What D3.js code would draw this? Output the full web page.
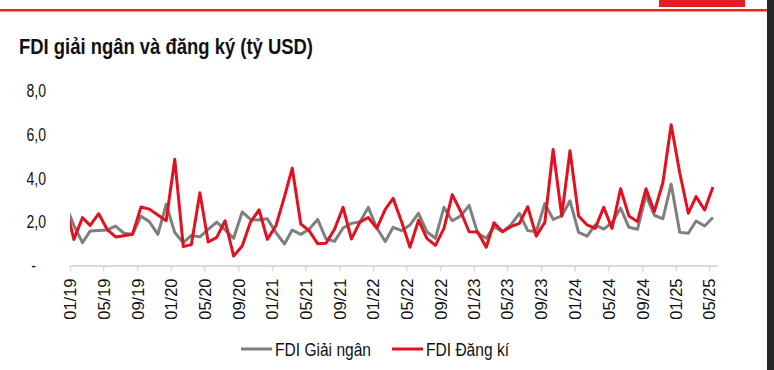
<!DOCTYPE html>
<html>
<head>
<meta charset="utf-8">
<script src="https://cdn.jsdelivr.net/npm/d3@7"></script>
<style>
  body { margin: 0; background: #fff; }
  svg { display: block; }
</style>
</head>
<body>
<div id="chart"></div>
<script>
// monthly values, Dec 2018 .. May 2025 (first point sits just left of the plot and is clipped)
const startMonth = new Date(2018, 11, 1);
const disbursed = [
  2.8,
  1.83, 1.04, 1.57, 1.60, 1.62, 1.80, 1.47, 1.42, 2.25, 2.00, 1.42, 2.79,
  1.50, 1.04, 1.37, 1.31, 1.65, 1.98, 1.62, 1.24, 2.44, 2.10, 2.07, 2.13,
  1.50, 0.98, 1.62, 1.42, 1.65, 2.10, 1.22, 1.10, 1.71, 1.92, 1.98, 2.65,
  1.71, 1.09, 1.74, 1.59, 1.85, 2.38, 1.54, 1.24, 2.65, 2.04, 2.26, 2.74,
  1.47, 1.24, 1.77, 1.54, 1.85, 2.38, 1.59, 1.54, 2.83, 2.10, 2.26, 2.95,
  1.51, 1.34, 1.85, 1.66, 1.95, 2.62, 1.74, 1.65, 3.21, 2.29, 2.13, 3.71,
  1.51, 1.47, 2.03, 1.80, 2.19
];
const registered = [
  2.8,
  1.19, 2.18, 1.83, 2.36, 1.65, 1.30, 1.36, 1.42, 2.67, 2.57, 2.30, 2.04,
  4.84, 0.86, 0.95, 3.32, 1.07, 1.28, 2.04, 0.43, 0.89, 1.98, 2.54, 1.19,
  1.81, 3.14, 4.44, 1.89, 1.59, 0.99, 1.01, 1.65, 2.65, 1.21, 1.98, 2.19,
  1.69, 2.57, 3.06, 1.98, 0.83, 2.07, 1.24, 0.92, 1.69, 3.23, 2.45, 1.54,
  1.53, 0.83, 1.95, 1.54, 1.77, 1.92, 2.68, 1.34, 1.97, 5.29, 2.26, 5.23,
  2.26, 1.85, 1.69, 2.65, 1.69, 3.50, 2.26, 2.00, 3.50, 2.45, 3.77, 6.42,
  4.23, 2.38, 3.14, 2.53, 3.58
];
const yTicks = [0, 2, 4, 6, 8];
const seriesNames = ['FDI Giải ngân', 'FDI Đăng kí'];
const seriesColors = ['#7f7f7f', '#e3101f'];

const width = 774;
const height = 370;
// no narrow face installed, so Liberation Sans gets squeezed horizontally
const font = '"Liberation Sans", Arial, sans-serif';

const svg = d3.select('#chart')
  .append('svg')
  .attr('width', width)
  .attr('height', height);

// page decoration
svg.append('rect').attr('x', 0).attr('y', 9).attr('width', width).attr('height', 2.5).attr('fill', '#f0201a');
svg.append('rect').attr('x', 659).attr('y', 0).attr('width', 86).attr('height', 7).attr('fill', '#e31b23');
svg.append('rect').attr('x', 767).attr('y', 0).attr('width', 7).attr('height', height).attr('fill', '#262626');

// title
svg.append('text')
  .attr('x', 19)
  .attr('y', 54)
  .text('FDI giải ngân và đăng ký (tỷ USD)')
  .attr('font-family', font)
  .attr('font-weight', 'bold')
  .attr('font-size', 22)
  .attr('textLength', 294)
  .attr('lengthAdjust', 'spacingAndGlyphs')
  .attr('fill', '#111');

const dates = disbursed.map((d, i) => d3.timeDay.offset(d3.timeMonth.offset(startMonth, i), 14));

const x = d3.scaleTime()
  .domain([new Date(2019, 0, 1), new Date(2025, 5, 1)])
  .range([70, 717.6]);
const y = d3.scaleLinear().domain([0, 8]).range([265.5, 90]);

// y labels
svg.selectAll('.ylab')
  .data(yTicks)
  .enter()
  .append('text')
  .attr('class', 'ylab')
  .attr('transform', (d) => `translate(${d === 0 ? 36 : 46},${y(d)}) scale(0.74,1)`)
  .attr('dy', '0.36em')
  .attr('text-anchor', 'end')
  .attr('font-family', font)
  .attr('font-size', 19)
  .attr('fill', '#111')
  .text((d) => (d === 0 ? '-' : d3.format('.1f')(d).replace('.', ',')));

// x axis
const xAxis = d3.axisBottom(x)
  .tickValues(d3.timeMonth.every(4).range(new Date(2019, 0, 1), new Date(2025, 5, 2)))
  .tickFormat(d3.timeFormat('%m/%y'))
  .tickSize(6)
  .tickSizeOuter(0);

const gx = svg.append('g')
  .attr('transform', `translate(0,${y(0)})`)
  .call(xAxis);
gx.select('.domain').attr('stroke', '#d9d9d9').attr('stroke-width', 2);
gx.selectAll('.tick line').attr('stroke', '#d9d9d9').attr('stroke-width', 1.5);
gx.selectAll('.tick text')
  .attr('transform', 'rotate(-90)')
  .attr('text-anchor', 'end')
  .attr('x', -13)
  .attr('y', 0)
  .attr('dy', '0.36em')
  .attr('font-family', font)
  .attr('font-size', 16.5)
  .attr('fill', '#111');

// lines
svg.append('clipPath').attr('id', 'plot')
  .append('rect').attr('x', 70).attr('y', 0).attr('width', 660).attr('height', 300);

const line = d3.line()
  .x((d, i) => x(dates[i]))
  .y((d) => y(d));

[disbursed, registered].forEach((s, k) => {
  svg.append('path')
    .datum(s)
    .attr('clip-path', 'url(#plot)')
    .attr('d', line)
    .attr('fill', 'none')
    .attr('stroke', seriesColors[k])
    .attr('stroke-width', 3)
    .attr('stroke-linejoin', 'round');
});

// legend
const legendX = [241, 392];
const legendW = [96, 83];
seriesNames.forEach((name, k) => {
  svg.append('line')
    .attr('x1', legendX[k]).attr('x2', legendX[k] + 31)
    .attr('y1', 349).attr('y2', 349)
    .attr('stroke', seriesColors[k])
    .attr('stroke-width', 3);
  svg.append('text')
    .attr('x', legendX[k] + 34)
    .attr('y', 349)
    .attr('dy', '0.35em')
    .attr('font-family', font)
    .attr('font-size', 19)
    .attr('textLength', legendW[k])
    .attr('lengthAdjust', 'spacingAndGlyphs')
    .attr('fill', '#111')
    .text(name);
});
</script>
</body>
</html>
